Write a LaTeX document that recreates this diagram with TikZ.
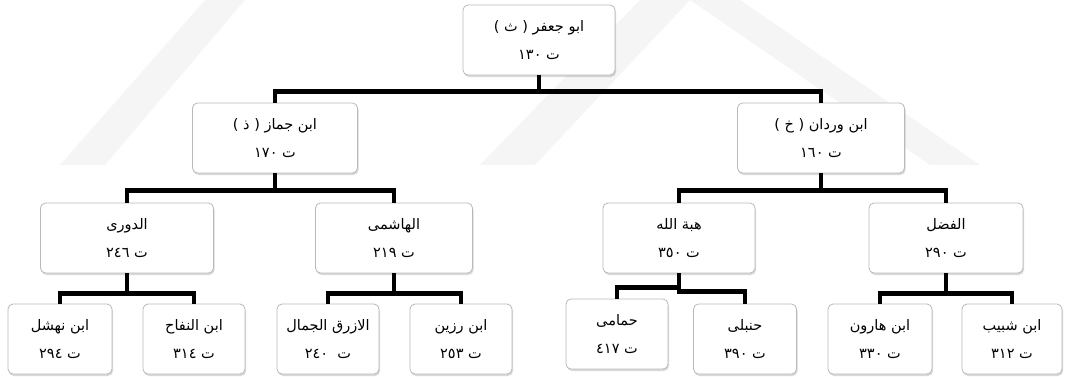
\documentclass[tikz,border=0pt]{standalone}
\usepackage{fontspec}
\newfontfamily\arabicfont[Script=Arabic]{DejaVu Sans}
\TeXXeTstate=1
\usetikzlibrary{shadows}
\newcommand{\qari}[5]{\node[box, minimum width=#2pt] (#1) at (#3) {#4\\#5};}

\begin{document}
\begin{tikzpicture}[x=1pt,y=-1pt,
    box/.style={draw=gray!55, line width=.8pt, rounded corners=5pt, fill=white,
      drop shadow={shadow xshift=1pt, shadow yshift=-2pt, opacity=.3},
      minimum height=70pt, inner sep=0pt, align=center,
      font=\arabicfont\fontsize{14.5}{28}\selectfont},
    link/.style={line width=4.5pt}]
    \useasboundingbox (0,0) rectangle (1081,376);

    % faint watermark
    \fill[gray!8] (205,0) -- (245,0) -- (105,165) -- (60,165) -- cycle;
    \fill[gray!8] (640,0) -- (690,0) -- (535,165) -- (480,165) -- cycle;
    \fill[gray!8] (690,0) -- (740,0) -- (980,165) -- (930,165) -- cycle;

    \qari{abujafar}{152}{539,40}{\beginR ابو جعفر ( ث )\endR}{\beginR ت ١٣٠\endR}
    \qari{jammaz}{165}{275,138}{\beginR ابن جماز ( ذ )\endR}{\beginR ت ١٧٠\endR}
    \qari{wardan}{167}{821,138}{\beginR ابن وردان ( خ )\endR}{\beginR ت ١٦٠\endR}

    \qari{duri}{173}{127,238}{\beginR الدورى\endR}{\beginR ت ٢٤٦\endR}
    \qari{hashimi}{157}{394,238}{\beginR الهاشمى\endR}{\beginR ت ٢١٩\endR}
    \qari{hibatallah}{152}{679,238}{\beginR هبة الله\endR}{\beginR ت ٣٥٠\endR}
    \qari{fadl}{154}{946,238}{\beginR الفضل\endR}{\beginR ت ٢٩٠\endR}

    \qari{nahshal}{104}{60,339}{\beginR ابن نهشل\endR}{\beginR ت ٢٩٤\endR}
    \qari{naffah}{102}{194,339}{\beginR ابن النفاح\endR}{\beginR ت ٣١٤\endR}
    \qari{azraq}{102}{328,339}{\beginR الازرق الجمال\endR}{\beginR ت\ \ ٢٤٠\endR}
    \qari{razin}{102}{461,339}{\beginR ابن رزين\endR}{\beginR ت ٢٥٣\endR}
    \qari{hamami}{102}{617,334}{\beginR حمامى\endR}{\beginR ت ٤١٧\endR}
    \qari{hanbali}{103}{745,339}{\beginR حنبلى\endR}{\beginR ت ٣٩٠\endR}
    \qari{harun}{104}{880,339}{\beginR ابن هارون\endR}{\beginR ت ٣٣٠\endR}
    \qari{shabib}{100}{1012,339}{\beginR ابن شبيب\endR}{\beginR ت ٣١٢\endR}

    \draw[link] (abujafar.south) -- ++(0,16) -| (jammaz.north);
    \draw[link] (abujafar.south) -- ++(0,16) -| (wardan.north);

    \draw[link] (jammaz.south) -- ++(0,17) -| (duri.north);
    \draw[link] (jammaz.south) -- ++(0,17) -| (hashimi.north);
    \draw[link] (wardan.south) -- ++(0,17) -| (hibatallah.north);
    \draw[link] (wardan.south) -- ++(0,17) -| (fadl.north);

    \draw[link] (duri.south) -- ++(0,20) -| (nahshal.north);
    \draw[link] (duri.south) -- ++(0,20) -| (naffah.north);
    \draw[link] (hashimi.south) -- ++(0,20) -| (azraq.north);
    \draw[link] (hashimi.south) -- ++(0,20) -| (razin.north);
    \draw[link] (hibatallah.south) -- ++(0,14) -| (hamami.north);
    \draw[link] (hibatallah.south) -- ++(0,18) -| (hanbali.north);
    \draw[link] (fadl.south) -- ++(0,20) -| (harun.north);
    \draw[link] (fadl.south) -- ++(0,20) -| (shabib.north);
\end{tikzpicture}
\end{document}
